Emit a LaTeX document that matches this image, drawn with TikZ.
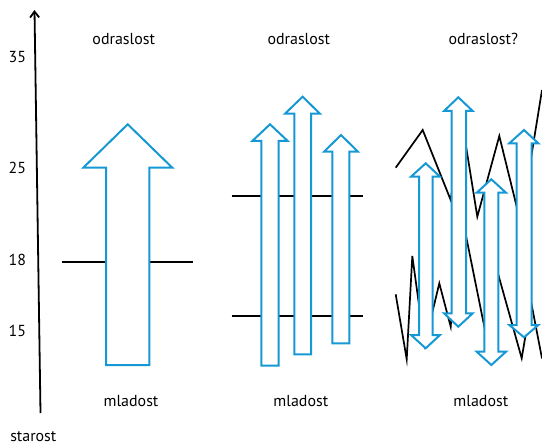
\documentclass[tikz,border=0pt]{standalone}
\usepackage{fontspec}
\setmainfont{PT Sans}
\usetikzlibrary{arrows.meta}
\definecolor{arrowblue}{RGB}{22,152,212}
\begin{document}
\begin{tikzpicture}[x=1bp,y=-1bp,
  blockarrow/.style={draw=arrowblue,line width=2bp,fill=white,line join=miter},
  rule/.style={draw=black,line width=1.8bp},
  zigzag/.style={draw=black,line width=1.7bp,line join=miter},
  axis/.style={draw=black,line width=1.8bp,-{Straight Barb[length=6bp,width=9bp]}},
  lbl/.style={font=\fontsize{16}{18}\selectfont,anchor=base,inner sep=0pt}]
\useasboundingbox (0,0) rectangle (542,446);

% age axis
\coordinate (axbot) at (40.5,413);
\coordinate (axtop) at (34.5,10);
\draw[axis] (axbot) -- (axtop);
\node[lbl] (n35) at (17.3,62.7) {35};
\node[lbl] (n25) at (17.3,173.3) {25};
\node[lbl] (n18) at (17.3,265.7) {18};
\node[lbl] (n15) at (17.3,336.7) {15};
\node[lbl] (starost) at (33.3,441.5) {starost};

% phase labels
\node[lbl] (odr1) at (123.7,45) {odraslost};
\node[lbl] (odr2) at (298.8,45) {odraslost};
\node[lbl] (odr3) at (483.3,45) {odraslost?};
\node[lbl] (mla1) at (131,406.7) {mladost};
\node[lbl] (mla2) at (300.8,406.7) {mladost};
\node[lbl] (mla3) at (480.8,406.7) {mladost};

% threshold lines
\coordinate (r1a) at (62.3,261.7);  \coordinate (r1b) at (193.3,261.7);
\coordinate (r2a) at (231.7,195.7); \coordinate (r2b) at (363.3,195.7);
\coordinate (r3a) at (231.7,316);   \coordinate (r3b) at (363.3,316);
\draw[rule] (r1a) -- (r1b);
\draw[rule] (r2a) -- (r2b);
\draw[rule] (r3a) -- (r3b);

% irregular transitions
\draw[zigzag] (395.7,167.7) -- (422.7,130) -- (450.7,200) -- (462,121)
  -- (477.3,216.7) -- (499.3,136) -- (516.7,206.7) -- (521,220) -- (542,90);
\draw[zigzag] (395.7,294.3) -- (406.7,359.3) -- (412.3,256) -- (424.5,345)
  -- (439.3,283.3) -- (450.7,326.7) -- (460,205.5) -- (466.7,239.3)
  -- (488,345) -- (497,270) -- (521.7,358.3) -- (531.1,302) -- (542,358.5);

% single transition
\draw[blockarrow] (106,365) -- (106,167.7) -- (83.3,167.7) -- (127.7,124.3)
  -- (172.3,167.7) -- (149.3,167.7) -- (149.3,365) -- cycle;

% staggered transitions
\draw[blockarrow] (261.3,365.7) -- (261.3,141) -- (252.3,141) -- (270,124.3)
  -- (287.7,141) -- (278.7,141) -- (278.7,365.7) -- cycle;
\draw[blockarrow] (294.3,354.3) -- (294.3,113.7) -- (285,113.7) -- (302.6,96.7)
  -- (320,113.7) -- (311,113.7) -- (311,354.3) -- cycle;
\draw[blockarrow] (332.3,343.3) -- (332.3,151.7) -- (324,151.7) -- (341,135)
  -- (358,151.7) -- (349.3,151.7) -- (349.3,343.3) -- cycle;

% back-and-forth transitions
\draw[blockarrow] (419,176.7) -- (411,176.7) -- (425.7,163.3) -- (440,176.7)
  -- (432.7,176.7) -- (432.7,335) -- (440,335) -- (425.7,348.3) -- (411,335)
  -- (419,335) -- cycle;
\draw[blockarrow] (451.7,111) -- (444,111) -- (458.3,97.3) -- (472.7,111)
  -- (466,111) -- (466,313.3) -- (472.7,313.3) -- (458.3,326.7) -- (444,313.3)
  -- (451.7,313.3) -- cycle;
\draw[blockarrow] (484.3,192.7) -- (476.7,192.7) -- (491.3,179.3) -- (506,192.7)
  -- (498.3,192.7) -- (498.3,351.7) -- (506,351.7) -- (491.3,365) -- (476.7,351.7)
  -- (484.3,351.7) -- cycle;
\draw[blockarrow] (516.7,143.3) -- (509.3,143.3) -- (524,130) -- (538.3,143.3)
  -- (531.7,143.3) -- (531.7,325) -- (538.3,325) -- (524,337.3) -- (509.3,325)
  -- (516.7,325) -- cycle;
\end{tikzpicture}
\end{document}
